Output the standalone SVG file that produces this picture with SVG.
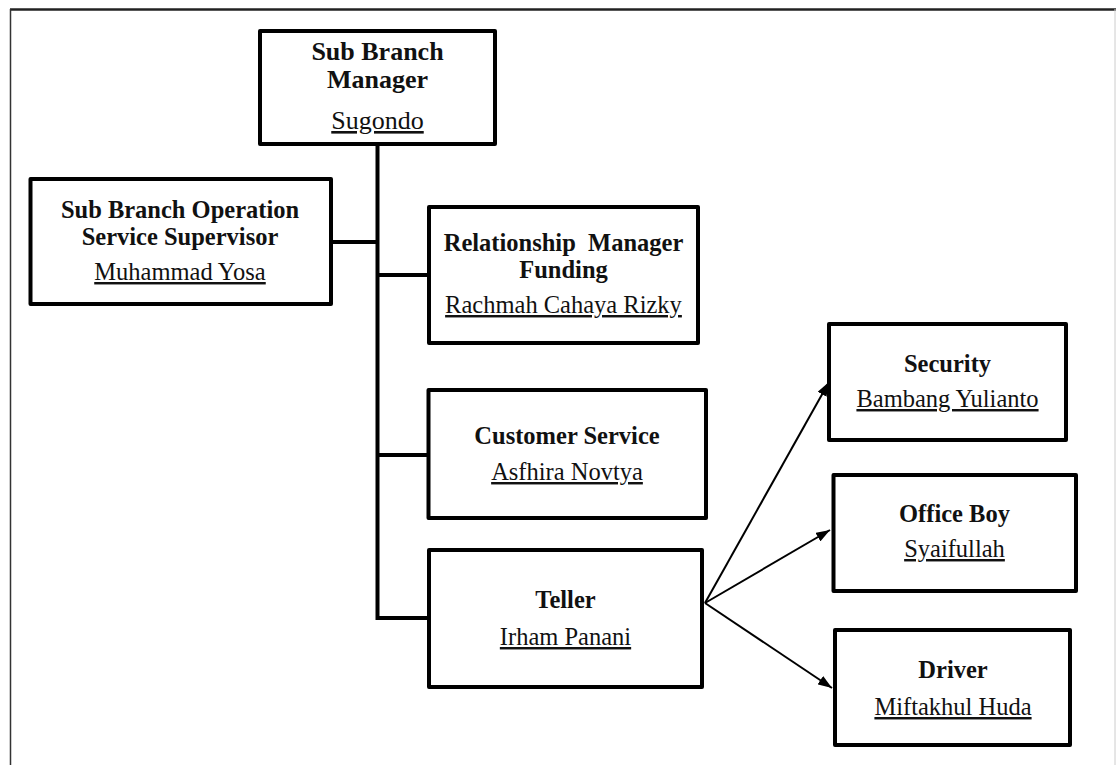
<svg xmlns="http://www.w3.org/2000/svg" width="1116" height="765" viewBox="0 0 1116 765">
<style>
.box{fill:#fff;stroke:#000;stroke-width:4;stroke-linejoin:round}
.t{font-family:"Liberation Serif","Times New Roman",serif;font-size:24.5px;text-anchor:middle;fill:#111}
.b{font-weight:bold}
.u{text-decoration:underline}
.big{font-size:26px}
.conn{fill:none;stroke:#000;stroke-width:4}
.arr{fill:none;stroke:#000;stroke-width:2}
</style>
<defs>
<marker id="ah" viewBox="0 0 14 10" refX="14" refY="5" markerWidth="14" markerHeight="10" markerUnits="userSpaceOnUse" orient="auto">
<path d="M0,0 L14,5 L0,10 z" fill="#000"/>
</marker>
</defs>
<rect x="0" y="0" width="1116" height="765" fill="#fff"/>
<g id="frame">
<line x1="10" y1="9.5" x2="1116" y2="9.5" stroke="#222" stroke-width="2.5"/>
<line x1="10.5" y1="9" x2="10.5" y2="765" stroke="#333" stroke-width="1.5"/>
<line x1="1115" y1="9" x2="1115" y2="765" stroke="#ccc" stroke-width="1"/>
</g>
<g id="connectors">
<path class="conn" d="M377.5 144 V618 H429"/>
<path class="conn" d="M331 242 H377.5"/>
<path class="conn" d="M377.5 275 H429"/>
<path class="conn" d="M377.5 455 H428.5"/>
<line class="arr" x1="705" y1="603" x2="829" y2="382" marker-end="url(#ah)"/>
<line class="arr" x1="705" y1="603" x2="830" y2="530" marker-end="url(#ah)"/>
<line class="arr" x1="705" y1="603" x2="832" y2="688" marker-end="url(#ah)"/>
</g>
<g id="sub-branch-manager">
<rect class="box" x="260" y="31" width="235" height="113"/>
<text class="t b big" x="377.5" y="60">Sub Branch</text>
<text class="t b big" x="377.5" y="88">Manager</text>
<text class="t u big" x="377.5" y="129">Sugondo</text>
</g>
<g id="operation-supervisor">
<rect class="box" x="30.5" y="179" width="300.5" height="125"/>
<text class="t b" x="180" y="218">Sub Branch Operation</text>
<text class="t b" x="180" y="245">Service Supervisor</text>
<text class="t u" x="180" y="280">Muhammad Yosa</text>
</g>
<g id="relationship-manager">
<rect class="box" x="429" y="207" width="269" height="136"/>
<text class="t b" x="563.5" y="251" xml:space="preserve">Relationship  Manager</text>
<text class="t b" x="563.5" y="278">Funding</text>
<text class="t u" x="563.5" y="313">Rachmah Cahaya Rizky</text>
</g>
<g id="customer-service">
<rect class="box" x="428.5" y="390" width="277.5" height="128"/>
<text class="t b" x="567" y="444">Customer Service</text>
<text class="t u" x="567" y="480">Asfhira Novtya</text>
</g>
<g id="teller">
<rect class="box" x="429" y="550" width="273" height="137"/>
<text class="t b" x="565.5" y="608">Teller</text>
<text class="t u" x="565.5" y="645">Irham Panani</text>
</g>
<g id="security">
<rect class="box" x="829" y="324" width="237" height="116"/>
<text class="t b" x="947.5" y="372">Security</text>
<text class="t u" x="947.5" y="407">Bambang Yulianto</text>
</g>
<g id="office-boy">
<rect class="box" x="833.5" y="475" width="242.5" height="116"/>
<text class="t b" x="954.5" y="522">Office Boy</text>
<text class="t u" x="954.5" y="557">Syaifullah</text>
</g>
<g id="driver">
<rect class="box" x="835" y="630" width="235" height="115"/>
<text class="t b" x="953" y="678">Driver</text>
<text class="t u" x="953" y="715">Miftakhul Huda</text>
</g>
</svg>
